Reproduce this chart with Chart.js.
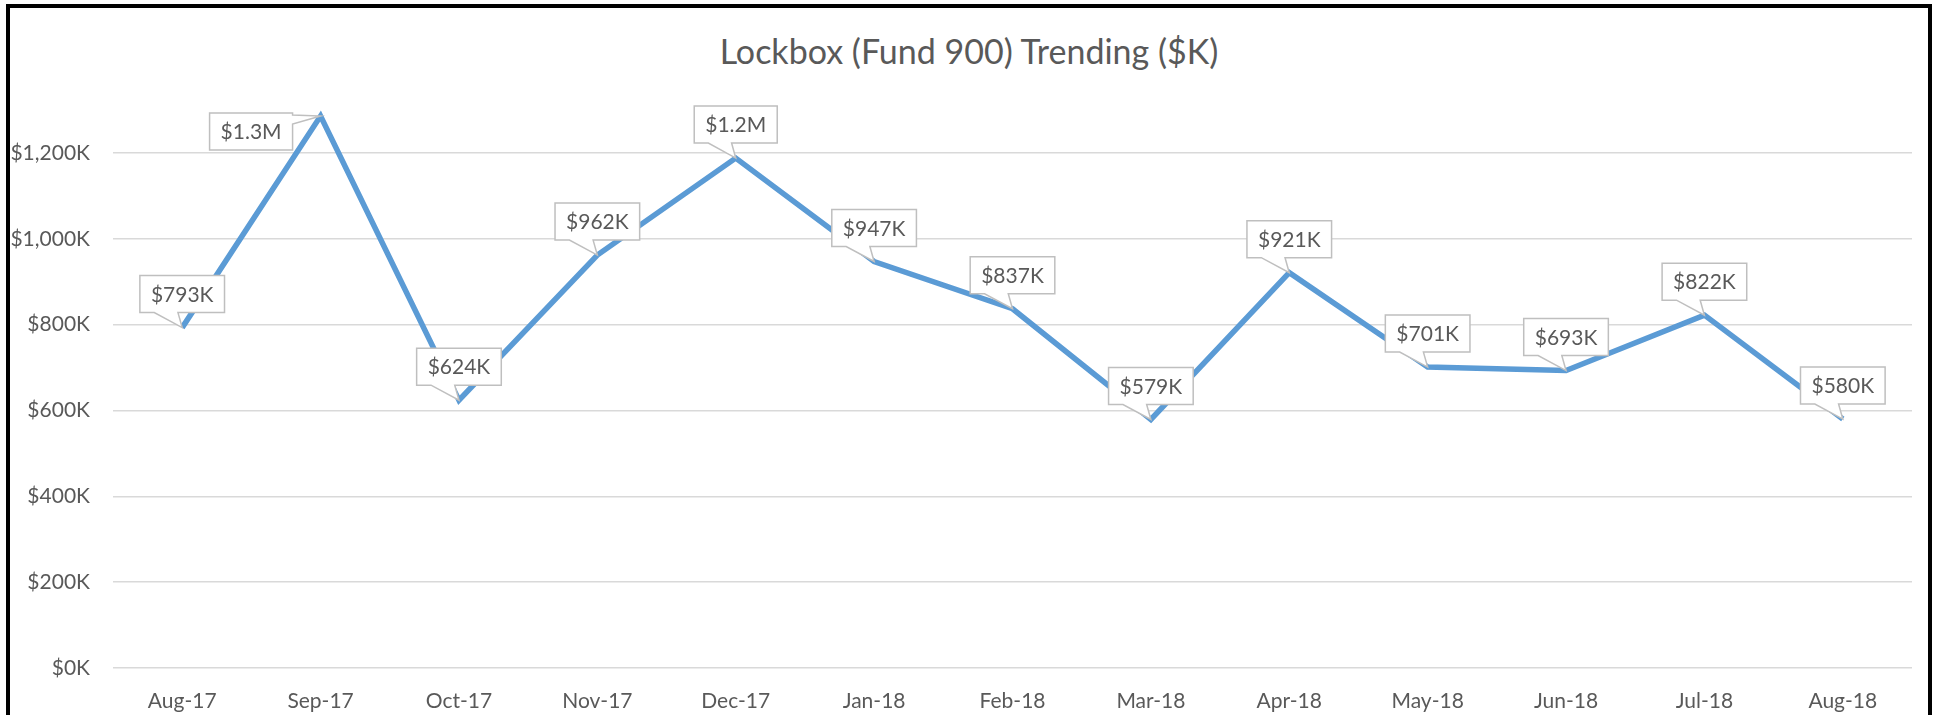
<!DOCTYPE html>
<html>
<head>
<meta charset="utf-8">
<script src="https://cdn.jsdelivr.net/npm/chart.js@4.4.1/dist/chart.umd.min.js"></script>
<style>
  html, body { margin: 0; padding: 0; background: #fff; overflow: hidden; }
  #frame { position: absolute; left: 6px; top: 4px; width: 1918px; height: 760px; border: 4px solid #000; background: #fff; }
  #titulo { position: absolute; left: 0; top: 26px; width: 1918px; text-align: center;
            font-family: Lato, sans-serif; font-size: 34px; line-height: 34px; color: #595959; }
  #grafico { position: absolute; left: 0; top: 0; }
</style>
</head>
<body>
<div id="frame">
  <div id="titulo">Lockbox (Fund 900) Trending ($K)</div>
  <canvas id="grafico" width="1918" height="752"></canvas>
</div>
<script>
// DADOS
const meses = ["Aug-17", "Sep-17", "Oct-17", "Nov-17", "Dec-17", "Jan-18", "Feb-18",
               "Mar-18", "Apr-18", "May-18", "Jun-18", "Jul-18", "Aug-18"];
const lockboxK = [793, 1286, 624, 962, 1188, 947, 837, 579, 921, 701, 693, 822, 580];
const ticksY = [0, 200, 400, 600, 800, 1000, 1200];

const cinza = "#595959";

function rotulo(v) {
  if (v >= 1000) return "$" + (v / 1000).toFixed(1) + "M";
  return "$" + Math.round(v) + "K";
}

// BALOES (callouts)
const baloes = {
  id: "baloes",
  afterDatasetsDraw(chart) {
    const ctx = chart.ctx;
    const meta = chart.getDatasetMeta(0);
    const area = chart.chartArea;
    ctx.save();
    ctx.font = "21px Lato";
    ctx.textAlign = "center";
    ctx.textBaseline = "middle";
    ctx.lineWidth = 1.5;
    ctx.strokeStyle = "#BFBFBF";

    meta.data.forEach((pt, i) => {
      const txt = rotulo(lockboxK[i]);
      const w = ctx.measureText(txt).width + 22;
      const h = 37;
      let x0 = pt.x - w / 2;
      let y0 = pt.y - 15 - h;
      let esquerda = false;
      if (y0 < area.top - 20) {
        esquerda = true;
        x0 = pt.x - 28 - w;
        y0 = pt.y - 3;
      }
      const x1 = x0 + w, y1 = y0 + h;

      ctx.beginPath();
      if (esquerda) {
        ctx.moveTo(x0, y0);
        ctx.lineTo(x1, y0);
        ctx.lineTo(x1, y0 + 2);
        ctx.lineTo(pt.x, pt.y);
        ctx.lineTo(x1, y0 + 11);
        ctx.lineTo(x1, y1);
        ctx.lineTo(x0, y1);
      } else {
        ctx.moveTo(x0, y0);
        ctx.lineTo(x1, y0);
        ctx.lineTo(x1, y1);
        ctx.lineTo(x0 + w * 0.45, y1);
        ctx.lineTo(pt.x, pt.y);
        ctx.lineTo(x0 + w * 0.17, y1);
        ctx.lineTo(x0, y1);
      }
      ctx.closePath();
      ctx.fillStyle = "#fff";
      ctx.fill();
      ctx.stroke();

      ctx.fillStyle = cinza;
      ctx.fillText(txt, (x0 + x1) / 2, (y0 + y1) / 2 + 1);
    });
    ctx.restore();
  }
};

// GRAFICO
const ctx = document.getElementById("grafico").getContext("2d");
new Chart(ctx, {
  type: "line",
  data: {
    labels: meses,
    datasets: [{
      label: "Lockbox",
      data: lockboxK,
      borderColor: "#5B9BD5",
      borderWidth: 5.5,
      borderJoinStyle: "miter",
      pointRadius: 0,
      tension: 0,
      fill: false
    }]
  },
  options: {
    responsive: false,
    animation: false,
    layout: { padding: { left: 0, top: 102, right: 16, bottom: 0 } },
    plugins: {
      legend: { display: false },
      tooltip: { enabled: false },
      title: { display: false }
    },
    scales: {
      x: {
        offset: true,
        grid: { display: false },
        border: { display: false },
        ticks: { color: cinza, font: { family: "Lato", size: 21 }, padding: 13, maxRotation: 0 },
        afterFit(scale) { scale.height = 92; }
      },
      y: {
        min: 0,
        max: 1300,
        grid: { color: "#D9D9D9", lineWidth: 1.5, drawTicks: false },
        border: { display: false },
        ticks: {
          color: cinza,
          font: { family: "Lato", size: 21 },
          padding: 23,
          callback: v => "$" + v.toLocaleString("en-US") + "K"
        },
        afterBuildTicks(axis) { axis.ticks = ticksY.map(v => ({ value: v })); },
        afterFit(scale) { scale.width = 103; }
      }
    }
  },
  plugins: [baloes]
});
</script>
</body>
</html>
